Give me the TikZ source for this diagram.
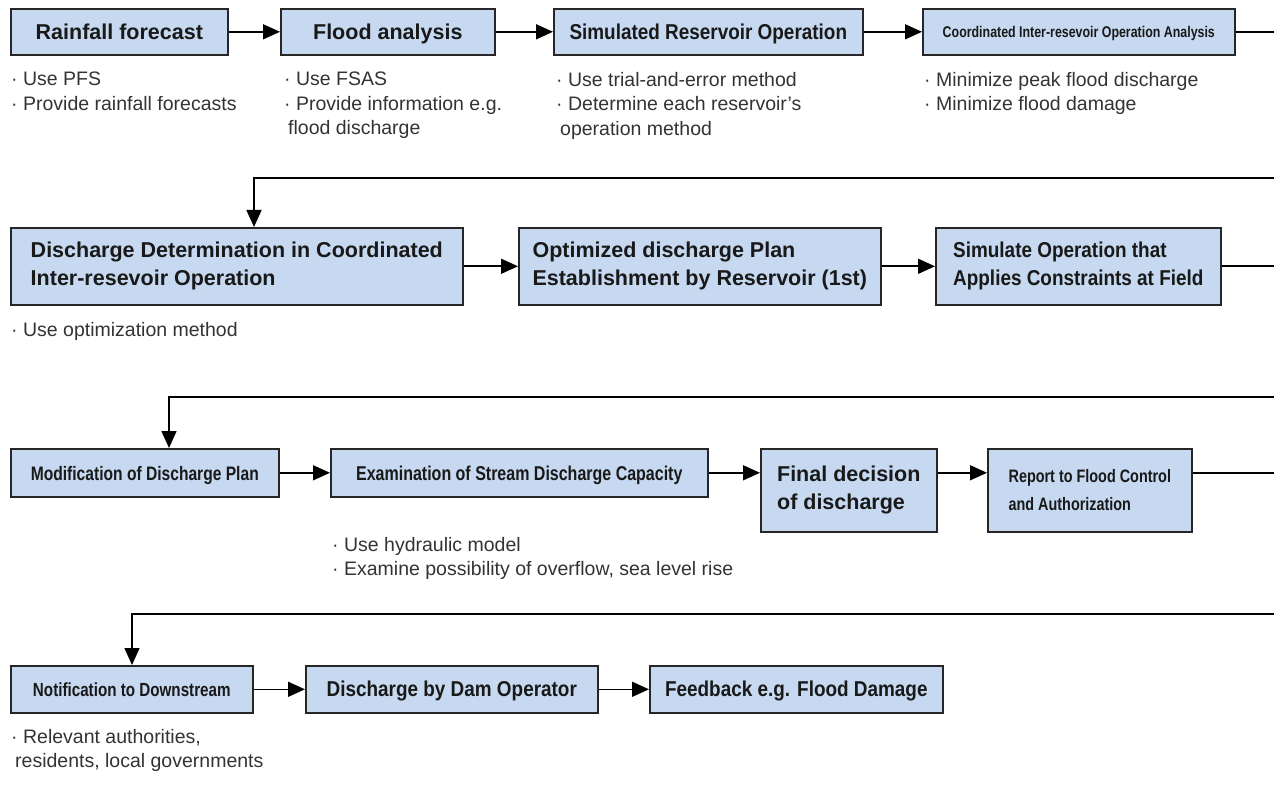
\documentclass[tikz,border=0pt]{standalone}
\usepackage{fontspec}
\setmainfont{Liberation Sans}
\newfontfamily\narrowfont[FakeStretch=0.8]{Liberation Sans}
\newfontfamily\semifont[FakeStretch=0.88]{Liberation Sans}
\usepackage{tikz}
\usetikzlibrary{arrows.meta, calc}

\definecolor{boxblue}{RGB}{198,217,240}

\tikzset{
  box/.style={draw=black!85, line width=1.6pt, fill=boxblue, anchor=north west,
    inner sep=3pt, align=left, text=black!90},
  one/.style={text height=14.5pt, text depth=0pt},
  wide/.style={font=\fontsize{21.5}{28}\selectfont\bfseries},
  semi/.style={font=\semifont\fontsize{21.5}{28}\selectfont\bfseries},
  note/.style={anchor=north west, align=left, inner sep=0pt, text=black!80,
    font=\fontsize{19.5}{24.5}\selectfont},
  arr/.style={line width=1.6pt, -{Triangle[length=17pt, width=15pt]}},
  link/.style={line width=1.6pt}
}

\begin{document}
\begin{tikzpicture}[x=1pt, y=1pt]
\useasboundingbox[fill=white] (0,0) rectangle (1274,-802);

% first row
\node[box, one, wide, minimum width=217pt, minimum height=46pt] (rain) at (10,-8) {Rainfall forecast};
\node[box, one, wide, minimum width=214pt, minimum height=46pt] (flood) at (280,-8) {Flood analysis};
\node[box, one, semi, minimum width=309pt, minimum height=46pt] (sim) at (553,-8) {Simulated Reservoir Operation};
\node[box, minimum width=312pt, minimum height=46pt, text height=11pt, text depth=0pt,
  font=\narrowfont\fontsize{15.5}{20}\selectfont\bfseries] (coord) at (922,-8) {Coordinated Inter-resevoir Operation Analysis};

% second row
\node[box, wide, minimum width=452pt, minimum height=77pt] (disc) at (10,-227)
  {Discharge Determination in Coordinated\\Inter-resevoir Operation};
\node[box, wide, minimum width=362pt, minimum height=77pt] (opt) at (518,-227)
  {Optimized discharge Plan\\Establishment by Reservoir (1st)};
\node[box, semi, minimum width=285pt, minimum height=77pt] (simop) at (935,-227)
  {Simulate Operation that\\Applies Constraints at Field};

% third row
\node[box, one, minimum width=268pt, minimum height=48pt,
  font=\narrowfont\fontsize{19.5}{25}\selectfont\bfseries] (mod) at (10,-448) {Modification of Discharge Plan};
\node[box, one, minimum width=377pt, minimum height=48pt,
  font=\narrowfont\fontsize{20}{25}\selectfont\bfseries] (exam) at (330,-448) {Examination of Stream Discharge Capacity};
\node[box, wide, minimum width=176pt, minimum height=83pt] (final) at (760,-448) {Final decision\\of discharge};
\node[box, minimum width=204pt, minimum height=83pt,
  font=\narrowfont\fontsize{18}{28}\selectfont\bfseries] (report) at (987,-448) {Report to Flood Control\\and Authorization};

% fourth row
\node[box, one, minimum width=242pt, minimum height=47pt,
  font=\narrowfont\fontsize{19}{25}\selectfont\bfseries] (notif) at (10,-665) {Notification to Downstream};
\node[box, one, semi, minimum width=292pt, minimum height=47pt] (disch) at (305,-665) {Discharge by Dam Operator};
\node[box, one, semi, minimum width=293pt, minimum height=47pt] (feed) at (649,-665) {Feedback e.g. Flood Damage};

% arrows along the rows
\foreach \a/\b/\r in {rain/flood/rain, flood/sim/rain, sim/coord/rain,
                      disc/opt/disc, opt/simop/disc,
                      mod/exam/mod, exam/final/mod, final/report/mod,
                      notif/disch/notif, disch/feed/notif}
  \draw[arr] (\r.east -| \a.east) -- (\r.east -| \b.west);

% lines leaving at the right edge
\coordinate (out1) at (1274,-31);
\coordinate (out2) at (1274,-266);
\coordinate (out3) at (1274,-472);
\draw[link] (coord.east) -- (coord.east -| out1);
\draw[link] (simop.east) -- (simop.east -| out2);
\draw[link] (mod.east -| report.east) -- (mod.east -| out3);

% lines coming back from the right edge
\coordinate (in2) at (1274,-178);
\coordinate (in3) at (1274,-397);
\coordinate (in4) at (1274,-614);
\coordinate (turn2) at (254,-178);
\coordinate (turn3) at (169,-397);
\coordinate (turn4) at (132,-614);
\draw[arr] (in2) -- (turn2) -- (turn2 |- disc.north);
\draw[arr] (in3) -- (turn3) -- (turn3 |- mod.north);
\draw[arr] (in4) -- (turn4) -- (turn4 |- notif.north);

% notes under the boxes
\node[note] (n1) at (11,-72) {· Use PFS\\· Provide rainfall forecasts};
\node[note] (n2) at (284,-72) {· Use FSAS\\· Provide information e.g.\\\hspace{4pt}flood discharge};
\node[note] (n3) at (556,-72) {· Use trial-and-error method\\· Determine each reservoir's\\\hspace{4pt}operation method};
\node[note] (n4) at (924,-72) {· Minimize peak flood discharge\\· Minimize flood damage};
\node[note] (n5) at (11,-322) {· Use optimization method};
\node[note] (n6) at (332,-537) {· Use hydraulic model\\· Examine possibility of overflow, sea level rise};
\node[note] (n7) at (11,-729) {· Relevant authorities,\\\hspace{4pt}residents, local governments};
\end{tikzpicture}
\end{document}
